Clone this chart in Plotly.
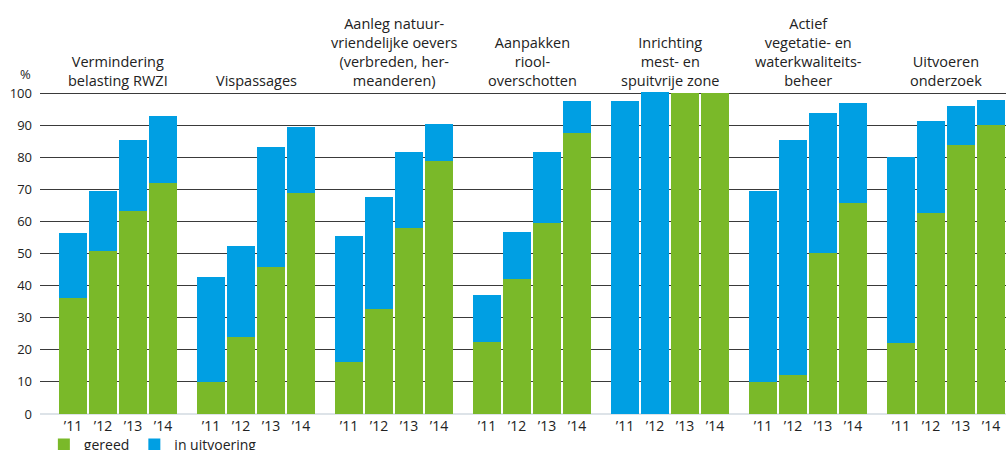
import plotly.graph_objects as go

categories = [
    "Vermindering<br>belasting RWZI",
    "Vispassages",
    "Aanleg natuur-<br>vriendelijke oevers<br>(verbreden, her-<br>meanderen)",
    "Aanpakken<br>riool-<br>overschotten",
    "Inrichting<br>mest- en<br>spuitvrije zone",
    "Actief<br>vegetatie- en<br>waterkwaliteits-<br>beheer",
    "Uitvoeren<br>onderzoek",
]
years = ["\u201911", "\u201912", "\u201913", "\u201914"]

gereed = [
    [36.2, 50.8, 63.4, 72.1],
    [9.9, 23.9, 45.9, 68.9],
    [16.2, 32.6, 57.9, 78.8],
    [22.6, 42.1, 59.6, 87.5],
    [0.0, 0.0, 100.0, 100.0],
    [9.9, 12.2, 50.2, 65.7],
    [22.0, 62.8, 83.9, 90.1],
]
in_uitvoering = [
    [20.3, 18.7, 22.1, 20.9],
    [32.7, 28.5, 37.3, 20.7],
    [39.4, 35.1, 23.8, 11.6],
    [14.5, 14.5, 22.1, 10.0],
    [97.5, 100.4, 0.0, 0.0],
    [59.7, 73.3, 43.7, 31.4],
    [58.2, 28.5, 12.1, 7.7],
]
y_ticks = [0, 10, 20, 30, 40, 50, 60, 70, 80, 90, 100]

GREEN = "#7ab929"
BLUE = "#009fe3"
FONT = "Open Sans"
TXT = "#222222"

GROUP_STEP = 4.6
xs, ticktext, g_vals, b_vals = [], [], [], []
for g in range(len(categories)):
    for i, yr in enumerate(years):
        xs.append(g * GROUP_STEP + i + 0.5)
        ticktext.append(yr)
        g_vals.append(gereed[g][i])
        b_vals.append(in_uitvoering[g][i])

fig = go.Figure()
fig.add_trace(go.Bar(x=xs, y=g_vals, name="gereed", marker_color=GREEN,
                     marker_line_width=0, width=0.933))
fig.add_trace(go.Bar(x=xs, y=b_vals, name="in uitvoering", marker_color=BLUE,
                     marker_line_width=0, width=0.933))

for g, cat in enumerate(categories):
    fig.add_annotation(x=g * GROUP_STEP + 2.0, y=100, xref="x", yref="y",
                       text=cat, showarrow=False, yanchor="bottom",
                       xanchor="center", align="center", yshift=1,
                       font=dict(family=FONT, size=14.5, color=TXT))

fig.add_annotation(xref="x domain", yref="y domain",
                   x=(25 - 40) / 966, y=(414 - 74) / 324,
                   xanchor="center", yanchor="middle", text="%",
                   showarrow=False, font=dict(family=FONT, size=13, color=TXT))

fig.update_layout(
    barmode="stack",
    width=1006, height=450,
    margin=dict(l=40, r=0, t=90, b=36, autoexpand=False),
    paper_bgcolor="white", plot_bgcolor="white",
    bargap=0,
    showlegend=True,
    legend=dict(orientation="h", x=0.004, y=-0.046, xanchor="left", yanchor="top",
                font=dict(family=FONT, size=14, color=TXT),
                traceorder="normal", bgcolor="rgba(0,0,0,0)"),
    xaxis=dict(range=[-0.6, 31.6], tickmode="array", tickvals=xs, ticktext=ticktext,
               showgrid=False, zeroline=False, showline=False, ticks="",
               ticklabelstandoff=2,
               tickfont=dict(family=FONT, size=14, color=TXT)),
    yaxis=dict(range=[0, 101], tickmode="array", tickvals=y_ticks,
               showgrid=True, gridcolor="#3a3a3a", gridwidth=1.2,
               zeroline=True, zerolinecolor="#dde3e8", zerolinewidth=2,
               showline=False, ticks="", ticklabelstandoff=7,
               tickfont=dict(family=FONT, size=13, color=TXT)),
)

fig.write_html("out.html", config={"displayModeBar": False},
               post_script="document.body.style.margin='0px';"
                           "document.body.style.overflow='hidden';")
